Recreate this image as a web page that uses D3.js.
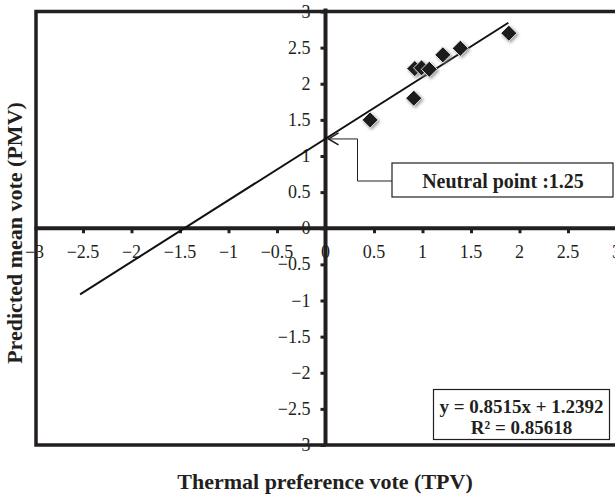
<!DOCTYPE html>
<html><head><meta charset="utf-8">
<script src="https://cdn.jsdelivr.net/npm/d3@7"></script>
<style>
html,body{margin:0;padding:0;background:#fff;}
svg{display:block;}
text{font-family:"Liberation Serif","Times New Roman",serif;fill:#231f20;}
</style></head>
<body>
<svg id="c" width="615" height="496"></svg>
<script>
// ---- data ----
const tpv = [0.46, 0.91, 0.92, 0.99, 1.07, 1.21, 1.39, 1.89];
const pmv = [1.50, 1.80, 2.21, 2.22, 2.20, 2.40, 2.49, 2.70];
const slope = 0.8515, intercept = 1.2392, r2 = "0.85618";
const trendX = [-2.53, 1.885];
const neutralPoint = 1.25;
const tickValues = [-3,-2.5,-2,-1.5,-1,-0.5,0,0.5,1,1.5,2,2.5,3];
const xTitle = "Thermal preference vote (TPV)";
const yTitle = "Predicted mean vote (PMV)";

const svg = d3.select("#c");
const ink = "#231f20";
const x = d3.scaleLinear().domain([-3,3]).range([34.5,616.5]);
const y = d3.scaleLinear().domain([-3,3]).range([445,11.5]);
const fmt = v => (v<0?"\u2212":"") + Math.abs(v).toString();

const defs = svg.append("defs");
const f = defs.append("filter").attr("id","sh").attr("x","-50%").attr("y","-50%").attr("width","200%").attr("height","200%");
f.append("feDropShadow").attr("dx",1.5).attr("dy",1.5).attr("stdDeviation",1.8)
 .attr("flood-color","#777").attr("flood-opacity",0.75);

// x axis (through y=0)
const xAxis = d3.axisBottom(x).tickValues(tickValues.filter(v=>v!==0 && v!==-3 && v!==3)).tickSize(5).tickFormat("");
const gx = svg.append("g").attr("transform",`translate(0,${y(0)})`).call(xAxis);
gx.select(".domain").remove();
gx.selectAll(".tick line").attr("stroke",ink).attr("stroke-width",3);
svg.append("g").selectAll("text").data(tickValues).join("text")
  .attr("x",d=>x(d)).attr("y",y(0)+30)
  .attr("text-anchor","middle").attr("font-size",18).text(fmt);

// y axis (through x=0)
const yAxis = d3.axisLeft(y).tickValues(tickValues).tickSize(5).tickFormat("");
const gy = svg.append("g").attr("transform",`translate(${x(0)},0)`).call(yAxis);
gy.select(".domain").remove();
gy.selectAll(".tick line").attr("stroke",ink).attr("stroke-width",3);
svg.append("g").selectAll("text").data(tickValues).join("text")
  .attr("x",x(0)-15).attr("y",d=>y(d)+6)
  .attr("text-anchor","end").attr("font-size",18).text(fmt);

// axis lines
svg.append("line").attr("x1",x(-3)).attr("x2",x(3)).attr("y1",y(0)).attr("y2",y(0))
  .attr("stroke",ink).attr("stroke-width",4);
svg.append("line").attr("x1",x(0)).attr("x2",x(0)).attr("y1",y(3)-3).attr("y2",y(-3))
  .attr("stroke",ink).attr("stroke-width",4);

// border (plot area)
svg.append("path")
  .attr("d",`M${x(3)+10},${y(3)}H${x(-3)+1.5}V${y(-3)}H${x(3)+10}`)
  .attr("fill","none").attr("stroke",ink).attr("stroke-width",3.5);

// trend line
svg.append("line")
  .attr("x1",x(trendX[0])).attr("y1",y(slope*trendX[0]+intercept))
  .attr("x2",x(trendX[1])).attr("y2",y(slope*trendX[1]+intercept))
  .attr("stroke","#111").attr("stroke-width",2);

// points
const pts = tpv.map((v,i)=>({x:v,y:pmv[i]}));
const dsz = 8;
svg.append("g").selectAll("path").data(pts).join("path")
  .attr("d",`M0,${-dsz}L${dsz},0L0,${dsz}L${-dsz},0Z`)
  .attr("transform",d=>`translate(${x(d.x)},${y(d.y)})`)
  .attr("fill","#1a1a1a").attr("stroke","#fff").attr("stroke-width",0.8)
  .attr("filter","url(#sh)");

// neutral point callout
const tipX = x(0)+3, tipY = y(neutralPoint)+1;
const callout = svg.append("g");
callout.append("path")
  .attr("d",`M${tipX+10},${tipY-6}L${tipX},${tipY}L${tipX+10},${tipY+6}`)
  .attr("fill","none").attr("stroke",ink).attr("stroke-width",1.6);
callout.append("path")
  .attr("d",`M${tipX},${tipY}H357.5V181H392`)
  .attr("fill","none").attr("stroke",ink).attr("stroke-width",1);
callout.append("rect").attr("x",392).attr("y",163).attr("width",221).attr("height",34)
  .attr("fill","#fff").attr("stroke",ink).attr("stroke-width",1.2);
callout.append("text").attr("x",503).attr("y",188).attr("text-anchor","middle")
  .attr("font-size",20).attr("font-weight","bold").text("Neutral point :" + neutralPoint);

// equation box
const eq = svg.append("g");
eq.append("rect").attr("x",433.5).attr("y",389.5).attr("width",176).attr("height",50)
  .attr("fill","#fff").attr("stroke",ink).attr("stroke-width",1.2);
eq.append("text").attr("x",521.5).attr("y",413).attr("text-anchor","middle")
  .attr("font-size",19).attr("font-weight","bold")
  .text(`y = ${slope}x + ${intercept}`);
eq.append("text").attr("x",521.5).attr("y",434).attr("text-anchor","middle")
  .attr("font-size",19).attr("font-weight","bold")
  .text(`R\u00b2 = ${r2}`);

// titles
svg.append("text").attr("x",325).attr("y",489).attr("text-anchor","middle")
  .attr("font-size",22).attr("font-weight","bold").text(xTitle);
svg.append("text").attr("transform","translate(22,233) rotate(-90)").attr("text-anchor","middle")
  .attr("font-size",22).attr("font-weight","bold").text(yTitle);
</script>
</body></html>
